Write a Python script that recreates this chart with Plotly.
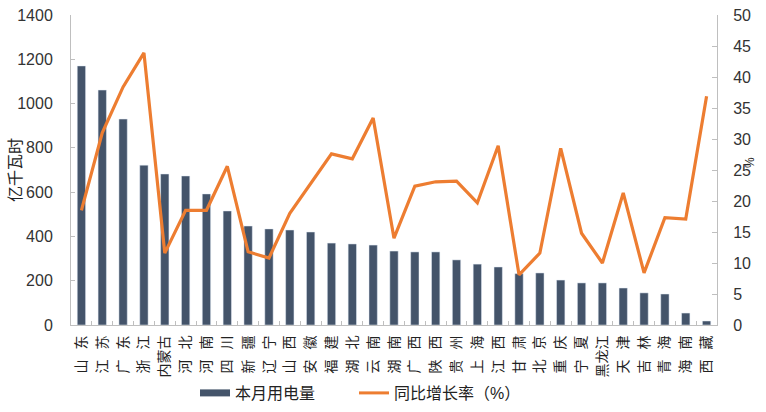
import plotly.graph_objects as go

provinces = ["山东", "江苏", "广东", "浙江", "内蒙古", "河北", "河南", "四川", "新疆", "辽宁",
             "山西", "安徽", "福建", "湖北", "云南", "湖南", "广西", "陕西", "贵州", "上海",
             "江西", "甘肃", "北京", "重庆", "宁夏", "黑龙江", "天津", "吉林", "青海", "海南", "西藏"]
usage = [1170, 1061, 930, 722, 682, 673, 592, 515, 447, 434,
         429, 420, 370, 366, 361, 334, 330, 330, 294, 275,
         262, 232, 235, 203, 190, 190, 167, 145, 140, 54, 18]
growth = [18.5, 31.0, 38.4, 43.9, 11.6, 18.5, 18.5, 25.6, 11.8, 10.8,
          18.0, 22.9, 27.6, 26.8, 33.4, 14.0, 22.4, 23.1, 23.2, 19.7,
          28.9, 8.1, 11.6, 28.5, 14.8, 10.0, 21.3, 8.4, 17.3, 17.1, 36.9]
y_left_ticks = [0, 200, 400, 600, 800, 1000, 1200, 1400]
y_right_ticks = [0, 5, 10, 15, 20, 25, 30, 35, 40, 45, 50]

BAR = "#44546A"
LINE = "#ED7D31"
FONT = "Liberation Sans, Arial, Noto Sans CJK SC"


def label(name):
    if len(name) == 2:
        return name[0] + "\u2002\u2009" + name[1]
    return name


fig = go.Figure()
fig.add_trace(go.Bar(x=provinces, y=usage, marker_color=BAR, name="本月用电量",
                     showlegend=False))
fig.add_trace(go.Scatter(x=provinces, y=growth, mode="lines", yaxis="y2",
                         line=dict(color=LINE, width=3.2), name="同比增长率（%）",
                         showlegend=False))
# legend proxies
fig.add_trace(go.Scatter(x=[None], y=[None], mode="lines", name="本月用电量",
                         line=dict(color=BAR, width=7)))
fig.add_trace(go.Scatter(x=[None], y=[None], mode="lines", name="同比增长率（%）",
                         line=dict(color=LINE, width=3)))

fig.update_layout(
    width=766, height=412,
    margin=dict(l=71, r=49, t=15, b=87, autoexpand=False),
    paper_bgcolor="white", plot_bgcolor="white",
    font=dict(family=FONT, size=16, color="#333333"),
    bargap=0.6,
    xaxis=dict(type="category", tickvals=provinces, ticktext=[label(p) for p in provinces],
               tickangle=-90, tickfont=dict(size=14, color="#222222"),
               showline=True, linecolor="#BFBFBF", linewidth=1, automargin=False,
               ticks="inside", ticklen=4, tickcolor="#BFBFBF", tickson="boundaries",
               ticklabelstandoff=4, showgrid=False, zeroline=False),
    yaxis=dict(range=[0, 1400], tickvals=y_left_ticks, showgrid=False, zeroline=False,
               showline=True, linecolor="#BFBFBF", linewidth=1, automargin=False,
               ticks="inside", ticklen=4, tickcolor="#BFBFBF", ticklabelstandoff=14),
    yaxis2=dict(range=[0, 50], tickvals=y_right_ticks, overlaying="y", side="right",
                showgrid=False, zeroline=False, automargin=False,
                showline=True, linecolor="#BFBFBF", linewidth=1,
                ticks="inside", ticklen=5, tickcolor="#BFBFBF", ticklabelstandoff=12),
    legend=dict(orientation="h", x=(195 - 71) / 646, xanchor="left", y=(325 - 393) / 310,
                yanchor="middle", entrywidth=114, entrywidthmode="pixels",
                font=dict(size=16, color="#222222"), bgcolor="rgba(0,0,0,0)"),
    annotations=[
        dict(text="亿千瓦时", xref="paper", yref="paper", x=-56 / 646, y=0.5,
             xanchor="center", yanchor="middle", textangle=-90, showarrow=False,
             font=dict(size=16, color="#222222")),
        dict(text="%", xref="paper", yref="paper", x=(750 - 71) / 646, y=(325 - 163) / 310,
             xanchor="center", yanchor="middle", textangle=-90, showarrow=False,
             font=dict(size=12, color="#222222")),
    ],
)

fig.write_html("out.html")
